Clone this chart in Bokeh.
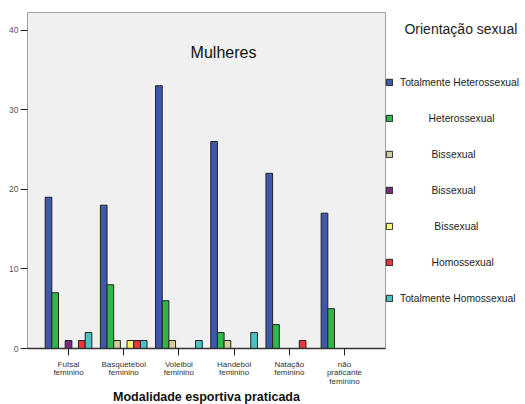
from bokeh.plotting import figure
from bokeh.models import FactorRange, Range1d, Legend, LegendItem, Label, ColumnDataSource
from bokeh.transform import dodge
from bokeh.embed import file_html
from bokeh.resources import INLINE

categories = ["Futsal\nfeminino", "Basquetebol\nfeminino", "Voleibol\nfeminino",
              "Handebol\nfeminino", "Natação\nfeminino", "não\npraticante\nfeminino"]
series_names = ["Totalmente Heterossexual", "Heterossexual", "Bissexual", "Bissexual",
                "Bissexual", "Homossexual", "Totalmente Homossexual"]
tot_hetero = [19, 18, 33, 26, 22, 17]
hetero = [7, 8, 6, 2, 3, 5]
bissexual_a = [0, 1, 1, 1, 0, 0]
bissexual_b = [1, 0, 0, 0, 0, 0]
bissexual_c = [0, 1, 0, 0, 0, 0]
homo = [1, 1, 0, 0, 1, 0]
tot_homo = [2, 1, 1, 2, 0, 0]
series_values = [tot_hetero, hetero, bissexual_a, bissexual_b, bissexual_c, homo, tot_homo]
colors = ["#3e58ac", "#2eb848", "#d3ce97", "#7c287d", "#fbf873", "#ef3338", "#48c2c5"]
y_ticks = [0, 10, 20, 30, 40]
# visual indent of each legend label (number of no-break spaces), as in the original
label_indent = [0, 10, 11, 11, 12, 11, 0]

FONT = "Liberation Sans"

data = {"cat": categories}
for i, vals in enumerate(series_values):
    data[f"s{i}"] = vals
source = ColumnDataSource(data)

p = figure(x_range=FactorRange(factors=categories, range_padding=0.243, range_padding_units="absolute"),
           y_range=Range1d(0, 42.2),
           frame_width=358, frame_height=336,
           min_border_left=27, min_border_top=12, min_border_bottom=56, min_border_right=0,
           output_backend="svg", toolbar_location=None,
           background_fill_color="#f0f0f0", border_fill_color="white",
           outline_line_color="#a0a0a0", outline_line_width=1)

w = 0.1208
renderers = []
for i in range(len(series_values)):
    r = p.vbar(x=dodge("cat", (i - 3) * w, range=p.x_range), top=f"s{i}", width=w,
               source=source, fill_color=colors[i], line_color="#222222", line_width=1)
    renderers.append(r)

p.xgrid.grid_line_color = None
p.ygrid.grid_line_color = None

p.yaxis.ticker = y_ticks
p.yaxis.major_tick_out = 7
p.yaxis.major_tick_in = 0
p.yaxis.minor_tick_out = 0
p.yaxis.minor_tick_in = 0
p.yaxis.axis_line_color = None
p.yaxis.major_tick_line_color = "#222222"
p.yaxis.major_label_text_font = FONT
p.yaxis.major_label_text_font_size = "8.5px"
p.yaxis.major_label_text_color = "#555555"
p.yaxis.major_label_standoff = 2

p.xaxis.major_tick_out = 7
p.xaxis.major_tick_in = 0
p.xaxis.axis_line_color = "#333333"
p.xaxis.axis_line_width = 1.5
p.xaxis.major_tick_line_color = "#222222"
p.xaxis.major_label_text_font = FONT
p.xaxis.major_label_text_font_size = "8px"
p.xaxis.major_label_text_line_height = 0.99
p.xaxis.major_label_text_color = "#333333"
p.xaxis.major_label_standoff = 4
p.xaxis.axis_label = "Modalidade esportiva praticada"
p.xaxis.axis_label_text_font = FONT
p.xaxis.axis_label_text_font_style = "bold"
p.xaxis.axis_label_text_font_size = "12.5px"
p.xaxis.axis_label_text_color = "#111111"
p.xaxis.axis_label_standoff = 1

title = Label(x=196, y=296, x_units="screen", y_units="screen", text="Mulheres",
              text_font=FONT, text_font_size="16px", text_align="center",
              text_baseline="middle", text_color="#111111")
p.add_layout(title)

items = [LegendItem(label="\u00a0" * label_indent[i] + series_names[i], renderers=[renderers[i]])
         for i in range(len(renderers))]
legend = Legend(items=items, title="\u00a0" * 5 + "Orientação sexual",
                title_text_font=FONT, title_text_font_size="14px", title_text_font_style="normal",
                title_text_color="#222222", title_standoff=35,
                label_text_font=FONT, label_text_font_size="10.3px", label_text_color="#222222",
                glyph_width=8, glyph_height=8, label_height=20, spacing=16, label_standoff=7,
                padding=3, margin=0, border_line_color=None, background_fill_alpha=0,
                location=(0, 40))
p.add_layout(legend, "right")

open("out.html", "w").write(file_html(p, INLINE))
